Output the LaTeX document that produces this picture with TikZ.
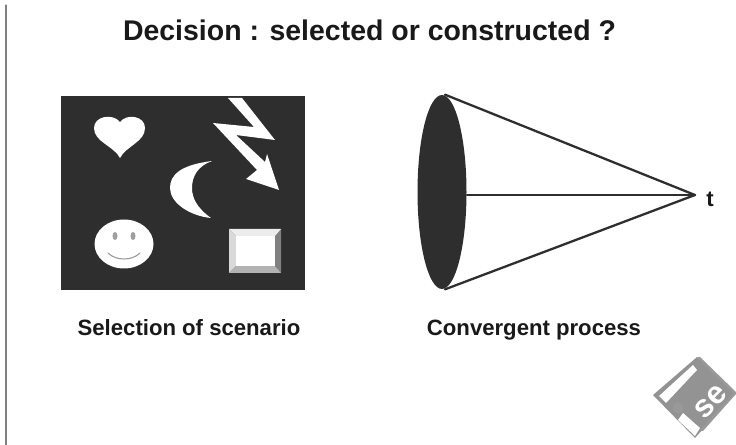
\documentclass[tikz,border=0pt]{standalone}
\usepackage{fontspec}
\setmainfont{Liberation Sans}
\usepackage[usenames, table, x11names]{xcolor}
\usetikzlibrary{shapes.geometric}
\definecolor{panel}{gray}{0.18}
\tikzset{caption/.style={font=\bfseries\fontsize{12.6}{14}\selectfont,text=black!90,inner sep=0pt,anchor=base}}
\tikzset{coneline/.style={line width=1.3pt,color=panel}}
\begin{document}
\begin{tikzpicture}[line cap=round,line join=round,x=0.02cm,y=-0.02cm]
		\useasboundingbox (0,0) rectangle (736,445);
		\draw[color=gray,line width=0.7pt] (6,5) -- (6,445);
		\node[caption,font=\bfseries\fontsize{16.2}{18}\selectfont] (title) at (369.5,41) {Decision : selected or constructed ?};
		% scenario panel
		\fill[color=panel] (61,96) rectangle (305,290);
		\fill[white] (120,158) .. controls (114,146) and (94,142) .. (94,128) .. controls (94,116) and (113,113) .. (120,122) .. controls (127,113) and (145,116) .. (145,128) .. controls (145,142) and (126,146) .. (120,158) -- cycle;
		\fill[white] (228,98) -- (242,98) -- (275,140) -- (236,135) -- (265,162) -- (267,154) -- (279,190) -- (246,179) -- (257,170) -- (213,123) -- (254,127) -- cycle;
		\fill[white] (212,161) .. controls (180,165) and (170,175) .. (170,188) .. controls (170,203) and (190,216) .. (211,218) .. controls (197,208) and (192,198) .. (192,188) .. controls (192,176) and (198,166) .. (212,161) -- cycle;
		\fill[white] (124,244) ellipse (29.5 and 24.5);
		\fill[color=gray!75] (115,236) ellipse (2.5 and 4) (133,236) ellipse (2.5 and 4);
		\draw[color=gray!80,line width=0.6pt] (108,253) .. controls (116,261) and (132,261) .. (140,253);
		\fill[color=gray!30] (229,229) -- (236,236) -- (236,266) -- (229,273) -- cycle;
		\fill[color=gray] (281,229) -- (275,236) -- (275,266) -- (281,273) -- cycle;
		\fill[color=gray!60] (229,273) -- (236,266) -- (275,266) -- (281,273) -- cycle;
		\fill[color=gray!15] (229,229) -- (236,236) -- (275,236) -- (281,229) -- cycle;
		\fill[white] (236,236) rectangle (275,266);
		\node[caption] (selection) at (189,336) {Selection of scenario};
		% convergent cone
		\node[ellipse,fill=panel,minimum width=0.98cm,minimum height=3.88cm,inner sep=0pt] (base) at (442,192) {};
		\coordinate (apex) at (695,195);
		\draw[coneline] (base.north) ++(3,0) -- (apex);
		\draw[coneline] (base.south) ++(3,0) -- (apex);
		\draw[coneline] (base.east |- apex) -- (apex);
		\node[caption] (tlabel) at (710,207) {t};
		\node[caption] (process) at (534,336) {Convergent process};
		% logo
		\fill[color=gray!85] (697,357) -- (735,393) -- (695,438) -- (653,395) -- cycle;
		\draw[color=gray!120!black,line width=1.6pt] (699,358) -- (735,393) -- (702,430);
		\fill[white] (693,365) -- (697,370) -- (666,403) -- (659,396) -- cycle;
		\fill[color=gray!120!black] (678,408) circle (5.5);
		\fill[white] (683,413) -- (700,428) -- (695,436) -- (678,420) -- cycle;
		\node[rotate=45,text=white,font=\bfseries\fontsize{18}{19}\selectfont,inner sep=0pt] (logo) at (711,402) {se};
		\end{tikzpicture}
\end{document}
